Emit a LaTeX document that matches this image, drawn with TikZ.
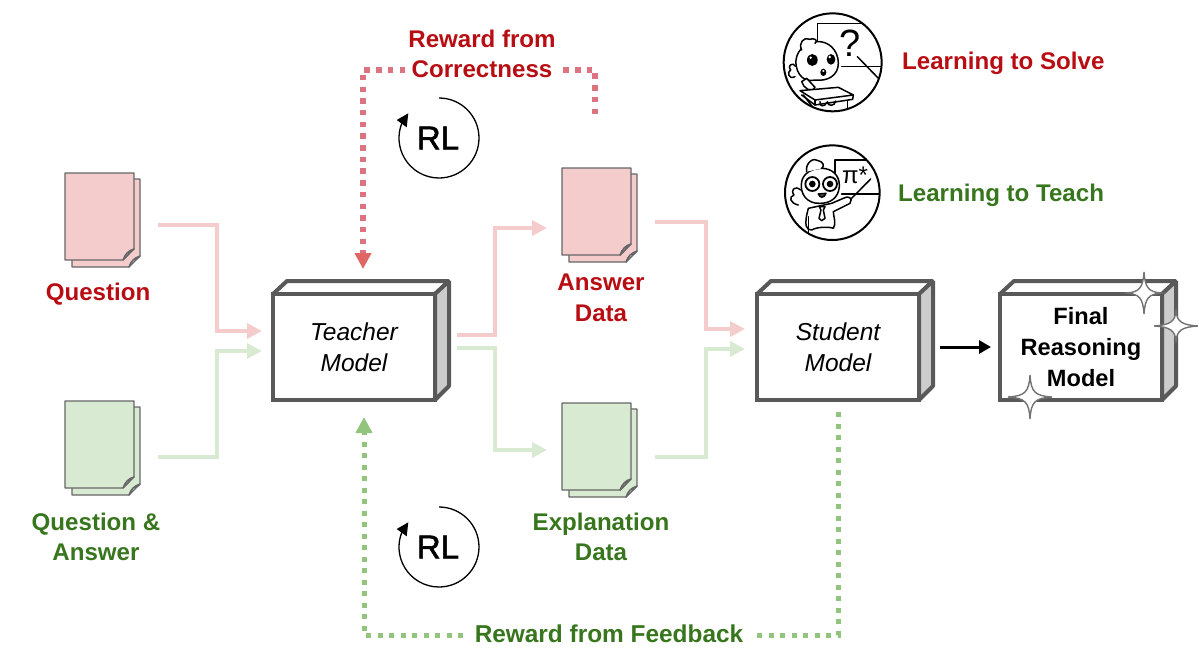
\documentclass[tikz,border=0pt]{standalone}
\usepackage{fontspec}
\setmainfont{Liberation Sans}
\newfontfamily\rlfont[FakeBold=1.6]{Liberation Sans}
\usetikzlibrary{arrows.meta,calc}
\definecolor{redtxt}{HTML}{B80D12}
\definecolor{greentxt}{HTML}{38761D}
\definecolor{pinkln}{HTML}{F4CCCC}
\definecolor{greenln}{HTML}{D9EAD3}
\definecolor{reddot}{HTML}{DB7480}
\definecolor{redtip}{HTML}{E06666}
\definecolor{greendot}{HTML}{93C47D}
\definecolor{boxgray}{HTML}{595959}
\tikzset{
  lbl/.style={font=\fontsize{24.1}{30.5}\selectfont\bfseries,align=center,inner sep=0pt},
  redlbl/.style={lbl,text=redtxt},
  greenlbl/.style={lbl,text=greentxt},
  pinkarrow/.style={draw=pinkln,line width=3.5pt,-{Triangle[length=15pt,width=15pt]},line join=miter},
  greenarrow/.style={draw=greenln,line width=3.5pt,-{Triangle[length=15pt,width=15pt]},line join=miter},
  reddots/.style={draw=reddot,line width=5.5pt,dash pattern=on 5.5pt off 6.2pt,-{Triangle[length=16pt,width=16pt,color=redtip]}},
  greendots/.style={draw=greendot,line width=5pt,dash pattern=on 5pt off 6.5pt,-{Triangle[length=16pt,width=16pt]}},
  modelfront/.style={draw=boxgray,line width=4pt,fill=white,minimum width=162pt,minimum height=106pt,inner sep=0pt,outer sep=0pt,align=center,font=\fontsize{24.5}{31}\selectfont},
  modelside/.style={draw=boxgray,line width=4pt,fill=#1,line join=bevel},
  docanchor/.style={minimum width=69pt,minimum height=87pt,inner sep=0pt,outer sep=0pt},
  sheet/.style={draw=black!60,line width=1.4pt,fill=#1,line join=round},
  spark/.style={draw=black!55,line width=1.4pt,fill=white},
  ink/.style={draw=black,line width=1.5pt,line cap=round,line join=round},
  rlarc/.style={draw=black,line width=1.3pt},
  rlnode/.style={font=\fontsize{33}{33}\selectfont\rlfont,inner sep=0pt}
}
\newcommand{\docsheet}[4]{% name, x, y, fill
  \begin{scope}[shift={(#2,#3)}]
    \path[sheet=#4] (69,6) -- (75,6) -- (75,83) -- (64,94) -- (7,94) -- (7,87);
    \path[sheet=#4!85!black] (64,94) .. controls (66,88) and (69,85) .. (75,83) .. controls (72,86) and (71,86) .. (68,87) -- cycle;
    \path[sheet=#4] (0,0) -- (69,0) -- (69,76) -- (58,87) -- (0,87) -- cycle;
    \path[sheet=#4!85!black] (58,87) .. controls (60,81) and (64,77) .. (69,76) .. controls (66,78) and (64,80) .. (63,82) -- cycle;
    \node[docanchor] (#1) at (34.5,43.5) {};
  \end{scope}}
\newcommand{\modelbox}[4]{% name, cx, cy, text
  \path[modelside=white] (#2-81,#3-53) -- (#2-67,#3-66) -- (#2+95,#3-66) -- (#2+81,#3-53) -- cycle;
  \path[modelside={black!20}] (#2+81,#3-53) -- (#2+95,#3-66) -- (#2+95,#3+39) -- (#2+81,#3+53) -- cycle;
  \node[modelfront] (#1) at (#2,#3) {#4};}
\newcommand{\sparkle}[4]{% cx, cy, hr, vr
  \path[spark] (#1+#3,#2) .. controls (#1+5,#2+1) and (#1+1,#2+5) .. (#1,#2+#4)
    .. controls (#1-1,#2+5) and (#1-5,#2+1) .. (#1-#3,#2)
    .. controls (#1-5,#2-1) and (#1-1,#2-5) .. (#1,#2-#4)
    .. controls (#1+1,#2-5) and (#1+5,#2-1) .. (#1+#3,#2) -- cycle;}
\newcommand{\rlcycle}[1]{% y offset
  \draw[rlarc] (439,98+#1) arc[start angle=-90,delta angle=292,radius=40];
  \fill (408.3,113.3+#1) -- (396.7,120+#1) -- (406.7,127.3+#1) -- cycle;}
\begin{document}
\begin{tikzpicture}[x=1pt,y=-1pt]
\useasboundingbox (0,0) rectangle (1199,664);
\fill[white] (0,0) rectangle (1199,664);

% documents
\docsheet{q}{65}{173}{pinkln}
\docsheet{qa}{65}{401}{greenln}
\docsheet{ans}{562}{168}{pinkln}
\docsheet{expl}{562}{403}{greenln}

% models
\modelbox{teacher}{354}{347}{\itshape Teacher\\\itshape Model}
\modelbox{student}{838}{347}{\itshape Student\\\itshape Model}
\modelbox{final}{1081}{347}{\bfseries\fontsize{23.6}{31}\selectfont Final\\\bfseries\fontsize{23.6}{31}\selectfont Reasoning\\\bfseries\fontsize{23.6}{31}\selectfont Model}

% labels
\node[redlbl] (qlab) at (98,294) {Question};
\node[greenlbl] (qalab) at (96,537) {Question \&\\Answer};
\node[redlbl] (anslab) at (601,298) {Answer\\Data};
\node[greenlbl] (expllab) at (601,537) {Explanation\\Data};

% flows
\draw[pinkarrow] ([shift={(24,8.5)}]q.east) -- ++(59,0) |- ([shift={(-11,-16)}]teacher.west);
\draw[greenarrow] ([shift={(24,12.5)}]qa.east) -- ++(59,0) |- ([shift={(-11,4)}]teacher.west);
\draw[pinkarrow] ([shift={(22,-12)}]teacher.east) -- ++(38,0) |- ([shift={(-15,16.5)}]ans.west);
\draw[greenarrow] ([shift={(22,1)}]teacher.east) -- ++(38,0) |- ([shift={(-15,3.5)}]expl.west);
\draw[pinkarrow] ([shift={(24,10.5)}]ans.east) -- ++(51,0) |- ([shift={(-12,-18)}]student.west);
\draw[greenarrow] ([shift={(24,10.5)}]expl.east) -- ++(51,0) |- ([shift={(-12,2)}]student.west);
\draw[black,line width=3pt,-{Triangle[length=12pt,width=13pt]}] ([xshift=21pt]student.east) -- ([xshift=-9pt]final.west);

% rewards
\coordinate (redstart) at (595,114);
\coordinate (greenstart) at (838,412);
\draw[reddots] (redstart) -- (595,70) -- (363,70) -- ([shift={(9,-25)}]teacher.north);
\draw[greendots] (greenstart) -- (838,635) -- (364,635) -- ([shift={(10,17)}]teacher.south);
\node[redlbl,fill=white,inner xsep=2pt] (rwc) at (482,54) {Reward from\\Correctness};
\node[greenlbl,fill=white,inner xsep=8pt,inner ysep=2pt,font=\fontsize{24.4}{30.5}\selectfont\bfseries] (rwf) at (609,634) {Reward from Feedback};

% RL cycles
\node[rlnode] (rl1) at (438,138) {RL};
\node[rlnode] (rl2) at (438,547) {RL};
\rlcycle{0}
\rlcycle{409}

% sparkles
\sparkle{1144}{293}{17}{21}
\sparkle{1176}{326}{22}{15}
\sparkle{1030}{397}{22}{22}

% icon 1: learning to solve
\begin{scope}[shift={(770,0)},scale=1/3]
  \begin{scope}
    \clip (188,187) circle[radius=147];
    \draw[ink] (143,140) -- (143,70) -- (340,70);
    \draw[ink] (215,200) -- (340,200);
    \draw[ink] (262,170) -- (335,245);
    \filldraw[ink,fill=white] (135,240) .. controls (90,250) and (75,205) .. (78,180)
      .. controls (82,145) and (115,125) .. (140,125)
      .. controls (175,122) and (205,150) .. (205,190)
      .. controls (205,225) and (175,245) .. (135,240) -- cycle;
    \filldraw[ink,fill=white] (95,150) .. controls (85,130) and (100,110) .. (118,118) .. controls (135,112) and (145,122) .. (135,130);
    \filldraw[ink,fill=white] (75,230) .. controls (55,240) and (50,215) .. (62,210) .. controls (50,195) and (70,185) .. (78,200);
    \filldraw[ink,fill=white] (95,245) .. controls (100,265) and (125,280) .. (135,262) -- (110,235) -- cycle;
    \filldraw[ink,fill=white] (90,272) -- (205,262) -- (250,285) -- (135,300) -- cycle;
    \draw[ink] (95,285) -- (135,315) -- (248,298) -- (250,285);
    \draw[ink] (135,300) -- (135,315);
    \draw[ink] (100,285) -- (135,330);
    \draw[ink] (232,302) -- (232,330);
    \draw[ink] (150,305) .. controls (145,320) and (165,322) .. (170,308);
    \draw[ink] (172,305) .. controls (172,320) and (195,320) .. (197,303);
    \fill (127,180) ellipse[x radius=16,y radius=18];
    \fill (183,178) ellipse[x radius=13,y radius=16];
    \fill[white] (122,173) circle[radius=4];
    \fill[white] (179,171) circle[radius=4];
    \fill (160,217) ellipse[x radius=9,y radius=11];
    \fill[white] (160,213) ellipse[x radius=4,y radius=3];
  \end{scope}
  \draw[black,line width=2pt] (188,187) circle[radius=147];
  \node[font=\fontsize{38}{38}\selectfont,inner sep=0pt] (qmark) at (241,130) {?};
\end{scope}

% icon 2: learning to teach
\begin{scope}[shift={(770,0)},scale=1/3]
  \begin{scope}
    \clip (187,578) circle[radius=142];
    \draw[ink] (195,520) -- (195,480) -- (330,480);
    \draw[ink] (215,582) -- (330,582);
    \draw[ink] (302,537) -- (228,612);
    \filldraw[ink,fill=white] (115,625) .. controls (100,680) and (110,690) .. (125,690) .. controls (140,680) and (180,680) .. (190,685) .. controls (200,670) and (190,650) .. (190,635) -- (240,610) .. controls (250,595) and (235,585) .. (220,595) -- (185,610) -- cycle;
    \draw[ink] (115,650) -- (115,700);
    \filldraw[ink,fill=white] (150,610) .. controls (110,612) and (88,580) .. (95,545)
      .. controls (100,520) and (125,505) .. (155,505)
      .. controls (185,505) and (210,525) .. (208,560)
      .. controls (205,595) and (180,610) .. (150,610) -- cycle;
    \filldraw[ink,fill=white] (110,515) .. controls (105,490) and (130,470) .. (145,482) .. controls (160,485) and (165,500) .. (155,505);
    \filldraw[ink,fill=white] (85,615) .. controls (60,610) and (55,590) .. (72,585) .. controls (60,570) and (75,555) .. (92,570);
    \draw[ink,line width=1.8pt,fill=white] (127,552) circle[radius=21];
    \draw[ink,line width=1.8pt,fill=white] (180,552) circle[radius=21];
    \fill (127,552) circle[radius=10];
    \fill (180,552) circle[radius=10];
    \filldraw[ink,fill=black!70] (145,582) .. controls (150,595) and (162,595) .. (168,580) -- cycle;
    \draw[ink] (148,620) -- (165,620) -- (160,630) -- (165,655) -- (155,662) -- (147,655) -- (153,630) -- cycle;
  \end{scope}
  \draw[black,line width=2pt] (187,578) circle[radius=142];
  \node[font=\fontsize{24}{24}\selectfont,inner sep=0pt] (pistar) at (255,525) {π*};
\end{scope}

% legend labels
\node[redlbl,anchor=west] (solve) at (902,63) {Learning to Solve};
\node[greenlbl,anchor=west] (teach) at (898,195) {Learning to Teach};
\end{tikzpicture}
\end{document}
